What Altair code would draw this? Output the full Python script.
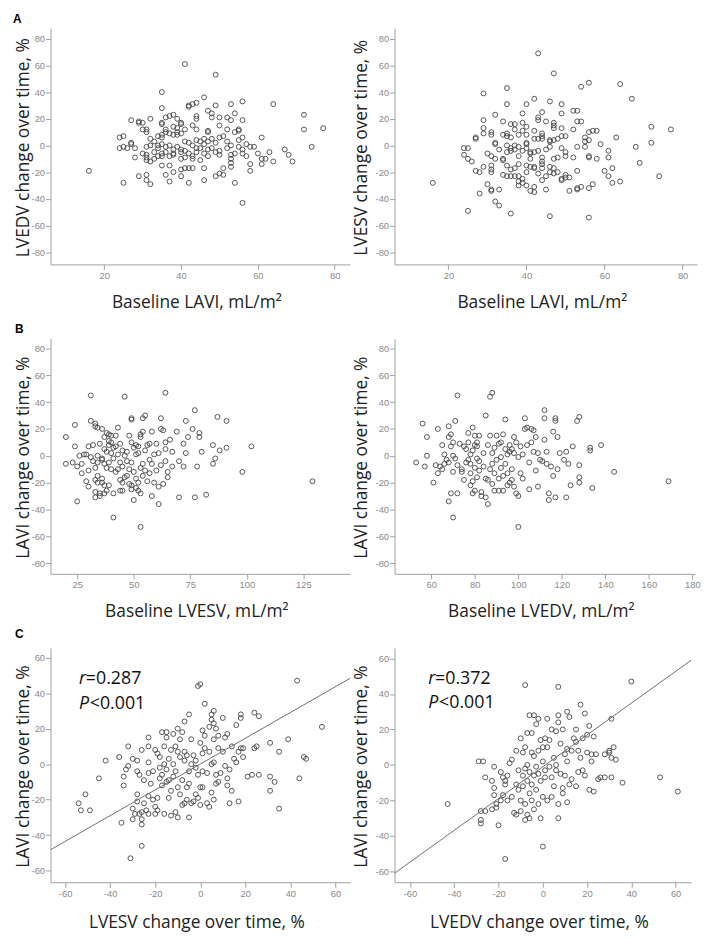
import altair as alt
import pandas as pd

# ---------------- data ----------------
# Panel A, left: Baseline LAVI vs LVEDV change over time
a1_pts = [(16,-19),(41,61),(49,53),(35,40),(46,36),(56,33),(64,31),(53,31),(42,29),(43,31),(44,32),(42,30),(49,30),(35,28),
          (47,26),(48,24),(54,24),(48,21),(50,21),(52,21),(53,19),(56,19),(38,23),(37,22),(36,21),(39,20),(40,17),(40,16),
          (27,19),(29,18),(30,17),(29,17),(72,23),(72,12),(77,13),(32,20),(35,17),(35,16),(44,20),(44,22),(43,15),(31,12),
          (30,12),(31,10),(38,14),(39,13),(36,12),(41,12),(44,12),(47,11),(47,10),(50,15),(52,12),(55,11),(55,12),(54,10),
          (61,6),(56,6),(55,4),(24,6),(25,7),(24,-2),(26,-2),(25,-1),(28,-2),(27,2),(27,1),(32,5),(33,3),(32,0),(31,-1),
          (30,-6),(31,-7),(31,-9),(28,-9),(31,-11),(34,7),(35,8),(35,6),(36,10),(37,9),(38,8),(39,10),(39,8),(40,9),(34,0),
          (35,1),(34,-2),(36,-1),(37,0),(38,-3),(38,-6),(37,-8),(38,-7),(36,-5),(35,-6),(35,-8),(34,-8),(33,-5),(33,-10),
          (32,-12),(39,-1),(40,-3),(40,-5),(41,-4),(41,3),(42,2),(43,0),(44,-2),(44,4),(45,3),(46,5),(46,1),(45,-2),(44,-5),
          (43,-8),(42,-6),(41,-9),(40,-10),(43,-10),(45,-11),(46,-6),(47,-8),(47,-3),(47,3),(48,5),(49,2),(48,-2),(49,-5),
          (50,-7),(50,-4),(50,6),(51,7),(52,3),(53,0),(53,-7),(53,-10),(52,-2),(55,-1),(56,-3),(56,-6),(54,-6),(57,1),(58,-1),
          (59,-1),(60,-6),(61,-10),(62,-10),(61,-14),(63,-5),(64,-12),(67,-3),(68,-7),(69,-12),(74,-1),(58,-14),(58,-19),
          (57,-8),(35,-15),(37,-15),(38,-20),(36,-22),(37,-27),(40,-18),(40,-23),(41,-17),(42,-17),(43,-17),(29,-23),(31,-22),
          (31,-26),(32,-29),(25,-28),(46,-17),(46,-26),(49,-23),(50,-21),(51,-22),(51,-17),(53,-16),(53,-13),(42,-28),(54,-28),
          (56,-43)]

# Panel A, right: Baseline LAVI vs LVESV change over time
a2_pts = [(16,-28),(43,69),(47,54),(56,47),(64,46),(54,44),(35,43),(29,39),(67,35),(42,35),(46,33),(35,31),(40,31),(49,31),
          (52,26),(53,26),(44,25),(39,24),(49,24),(32,23),(43,21),(43,19),(29,19),(34,18),(45,18),(53,18),(54,18),(36,16),
          (37,16),(39,17),(40,14),(47,17),(47,15),(47,13),(49,13),(52,12),(72,14),(77,12),(57,11),(58,11),(56,10),(29,13),
          (29,9),(31,10),(31,8),(34,8),(35,9),(35,7),(36,6),(37,12),(38,8),(40,8),(39,11),(42,11),(44,9),(44,7),(42,5),(43,5),
          (44,5),(46,4),(47,4),(48,5),(49,7),(50,7),(55,6),(55,3),(56,4),(59,1),(63,6),(72,2),(27,5),(27,6),(24,-2),(25,-2),
          (24,-7),(25,-10),(26,-12),(30,-6),(31,-8),(32,1),(32,2),(33,-3),(34,-10),(34,-11),(35,0),(35,-5),(36,-2),(36,-4),
          (37,0),(37,-3),(38,-8),(38,-1),(39,-4),(40,-2),(40,1),(40,2),(41,-5),(41,-10),(41,-6),(42,-5),(43,-4),(44,-9),
          (44,-12),(45,-3),(46,-1),(46,3),(47,-10),(48,-9),(49,-2),(50,-5),(50,-8),(52,-9),(53,-1),(55,-1),(56,-8),(56,-9),
          (58,-10),(61,-4),(61,-9),(68,-1),(69,-13),(27,-19),(28,-20),(29,-16),(31,-15),(31,-18),(31,-20),(32,-10),(34,-22),
          (35,-23),(35,-15),(36,-18),(36,-23),(37,-17),(37,-23),(38,-14),(38,-23),(39,-25),(40,-20),(40,-15),(41,-16),
          (42,-16),(42,-17),(43,-21),(44,-14),(44,-17),(44,-26),(45,-23),(46,-20),(46,-16),(47,-17),(47,-21),(48,-20),
          (49,-25),(49,-26),(50,-22),(50,-24),(51,-24),(53,-19),(53,-32),(53,-33),(54,-31),(57,-29),(56,-32),(60,-19),
          (61,-23),(62,-17),(62,-28),(64,-27),(74,-23),(28,-36),(30,-29),(31,-33),(31,-34),(33,-33),(32,-42),(33,-45),
          (25,-49),(36,-51),(38,-27),(38,-30),(39,-28),(40,-30),(41,-34),(42,-31),(42,-35),(45,-33),(46,-53),(51,-34),(56,-54)]

# Panel B, left: Baseline LVESV vs LAVI change over time
b1_pts = [(20,14),(20,-6),(23,-5),(24,7),(24,23),(25,-8),(25,-34),(26,0),(27,-13),(27,-6),(28,1),(29,1),(29,-19),(30,-23),
          (30,-11),(30,7),(31,-1),(31,45),(31,26),(32,8),(32,-4),(33,24),(33,22),(33,-9),(33,-18),(33,-27),(33,-31),(34,21),
          (34,0),(34,-5),(34,-15),(34,-20),(35,9),(35,-30),(35,-28),(36,20),(36,-2),(36,-3),(36,-17),(36,-20),(37,14),(37,5),
          (37,-6),(37,-22),(37,-28),(38,17),(38,3),(38,-9),(38,-26),(39,11),(39,16),(39,8),(39,-5),(39,-22),(40,15),(40,10),
          (40,2),(40,-10),(41,-28),(41,-46),(41,-2),(41,6),(42,15),(42,7),(42,-12),(43,21),(43,1),(43,-10),(44,-5),(44,9),
          (44,-18),(44,-26),(45,-20),(45,-26),(45,4),(45,-8),(46,44),(46,0),(46,-16),(47,-15),(47,3),(47,-4),(48,15),(48,-21),
          (48,-10),(49,27),(49,28),(49,10),(49,-5),(49,-22),(49,-25),(50,-33),(50,6),(50,-12),(51,8),(51,1),(51,-17),(51,-24),
          (52,2),(52,7),(52,-20),(52,-26),(53,16),(53,14),(53,-28),(53,-53),(53,-9),(54,18),(54,-15),(54,-6),(54,28),(55,30),
          (55,4),(55,-11),(56,8),(56,-19),(57,-3),(57,9),(57,-13),(58,18),(58,-30),(58,-6),(59,-20),(59,1),(60,9),(60,-11),
          (61,-36),(61,2),(61,-23),(62,28),(62,20),(62,-7),(63,19),(63,-21),(64,47),(64,10),(64,-4),(64,5),(65,-12),(65,-16),
          (66,12),(67,3),(67,-8),(69,18),(70,-4),(70,-31),(72,9),(72,-8),(73,26),(73,2),(74,14),(76,20),(77,34),(77,-31),
          (78,-8),(79,17),(79,14),(80,3),(82,-29),(85,8),(85,-6),(86,-2),(87,29),(88,4),(91,26),(91,6),(98,-12),(102,7),
          (129,-19)]

# Panel B, right: Baseline LVEDV vs LAVI change over time
b2_pts = [(53,-5),(56,24),(57,-8),(58,0),(58,14),(61,-20),(62,-7),(63,20),(63,-13),(64,-8),(65,-10),(65,8),(66,-6),(66,1),
          (67,-3),(68,22),(68,14),(68,-5),(68,-34),(69,16),(69,-28),(69,7),(70,0),(70,-46),(70,-12),(70,10),(71,26),(71,-2),
          (72,45),(72,-7),(72,-28),(73,9),(74,-10),(74,-12),(75,7),(75,-18),(76,5),(76,-5),(77,17),(77,-3),(77,10),(78,-13),
          (78,-22),(78,1),(78,-6),(79,-19),(79,-28),(79,21),(79,4),(80,-9),(80,8),(80,-26),(80,15),(81,10),(81,7),(81,-2),
          (81,-16),(82,15),(82,-4),(82,-11),(83,-27),(83,-30),(84,-8),(84,2),(85,30),(85,-17),(85,-31),(86,8),(86,-18),
          (86,-36),(87,44),(87,15),(87,-10),(88,47),(88,2),(88,-21),(88,-6),(89,6),(89,-26),(89,-13),(90,15),(90,-3),(91,9),
          (91,-26),(91,-17),(92,10),(92,-1),(92,-9),(93,16),(93,-15),(93,-26),(94,27),(94,5),(94,-6),(95,1),(95,-13),(95,-22),
          (96,-20),(96,8),(96,3),(97,-18),(97,-10),(97,5),(98,14),(98,-23),(98,2),(99,10),(99,-28),(100,-53),(100,-1),
          (100,-30),(101,7),(101,-13),(102,-17),(102,1),(103,28),(103,20),(104,21),(104,8),(105,-5),(105,-25),(106,10),
          (106,20),(107,19),(107,3),(108,14),(108,-11),(109,-23),(109,2),(110,-3),(111,-4),(112,34),(112,28),(112,12),(113,3),
          (113,-6),(114,-28),(114,-33),(115,-8),(116,-15),(116,18),(117,28),(117,26),(117,-31),(118,14),(118,-10),(119,2),
          (121,-3),(122,-31),(122,3),(123,-6),(124,-22),(125,7),(127,26),(128,29),(128,-7),(128,-16),(128,-20),(133,6),
          (133,4),(134,-24),(138,8),(144,-12),(169,-19)]

# Panel C, left: LVESV change vs LAVI change
c1_pts = [(-54,-22),(-53,-26),(-51,-17),(-49,-26),(-45,-8),(-42,2),(-36,4),(-35,-33),(-34,-12),(-34,-7),(-33,-3),(-32,10),
          (-32,-1),(-31,-53),(-30,-31),(-30,-25),(-30,3),(-29,-28),(-28,-21),(-28,-17),(-28,-4),(-28,2),(-27,-28),(-27,-6),
          (-26,-46),(-26,-34),(-26,-31),(-26,-27),(-26,8),(-25,-9),(-25,-22),(-24,-26),(-23,-28),(-23,-18),(-23,15),(-23,10),
          (-23,1),(-23,-5),(-22,-11),(-21,-4),(-21,-20),(-20,8),(-20,-24),(-20,-28),(-19,6),(-19,-19),(-19,-26),(-18,-2),
          (-18,4),(-18,-8),(-17,18),(-17,-12),(-17,-6),(-16,-28),(-16,10),(-16,0),(-15,18),(-15,15),(-15,-3),(-15,-10),
          (-14,-19),(-14,-9),(-14,3),(-13,-29),(-13,8),(-13,-15),(-12,17),(-12,-7),(-12,0),(-11,10),(-11,-27),(-11,-4),
          (-10,20),(-10,7),(-10,-30),(-10,-13),(-9,14),(-9,-17),(-9,4),(-8,18),(-8,-9),(-8,-23),(-7,24),(-7,7),(-7,2),(-7,-22),
          (-6,5),(-6,-13),(-6,-20),(-5,28),(-5,-30),(-5,-11),(-5,-4),(-4,14),(-4,0),(-4,-22),(-3,5),(-3,-21),(-2,-17),(-2,-2),
          (-2,2),(-1,44),(-1,-6),(-1,-19),(0,45),(0,12),(0,-23),(0,-13),(1,19),(1,6),(1,-4),(1,-13),(2,34),(2,16),(2,9),(3,-5),
          (3,-22),(4,7),(4,21),(4,-24),(5,28),(5,25),(5,-16),(5,0),(6,30),(6,23),(6,14),(6,-20),(6,1),(7,20),(7,-6),(7,-11),
          (8,9),(8,16),(8,-10),(9,-5),(10,26),(10,7),(11,-1),(11,15),(12,17),(12,-8),(12,-12),(13,-3),(13,-22),(14,10),(14,-15),
          (15,3),(16,22),(16,1),(17,-21),(17,7),(18,28),(18,26),(18,9),(19,4),(19,9),(21,-7),(23,-6),(24,29),(24,9),(25,10),
          (26,27),(26,-6),(31,12),(31,-7),(31,-15),(33,-10),(35,7),(35,-25),(39,14),(43,47),(44,-8),(46,4),(47,3),(54,21)]

# Panel C, right: LVEDV change vs LAVI change
c2_pts = [(-43,-22),(-29,2),(-27,2),(-28,-26),(-28,-31),(-28,-33),(-26,-7),(-26,-26),(-23,-9),(-23,-25),(-22,-13),(-22,-17),
          (-22,-1),(-21,-22),(-21,-24),(-20,-34),(-19,-4),(-19,-20),(-18,-7),(-18,-17),(-17,-53),(-17,-9),(-17,-11),(-16,-6),
          (-16,-20),(-15,1),(-14,3),(-14,-18),(-13,-27),(-12,8),(-12,-11),(-12,-28),(-11,-3),(-11,-14),(-10,15),(-10,-20),
          (-10,-26),(-9,7),(-9,-6),(-9,-12),(-8,45),(-8,10),(-8,-2),(-8,-22),(-8,-31),(-7,18),(-7,0),(-7,-9),(-7,-28),(-6,28),
          (-6,-4),(-6,-16),(-6,-30),(-5,18),(-5,7),(-5,-11),(-5,-20),(-4,28),(-4,5),(-4,-6),(-4,-25),(-3,23),(-3,-1),(-3,-14),
          (-2,26),(-2,8),(-2,-5),(-2,-22),(-1,14),(-1,-9),(-1,-30),(0,10),(0,2),(0,-18),(0,-46),(1,15),(1,-3),(1,-7),(2,26),
          (2,10),(2,-20),(3,-1),(3,14),(4,-18),(4,20),(4,-7),(5,4),(5,-12),(6,19),(6,0),(6,-3),(7,44),(7,28),(7,24),(7,-22),
          (7,-30),(8,12),(8,-5),(9,20),(9,-13),(9,-16),(10,6),(10,-6),(11,30),(11,9),(11,2),(11,-21),(12,27),(12,-11),(13,8),
          (13,-8),(14,15),(15,20),(15,13),(15,-12),(16,8),(16,-4),(17,34),(17,4),(18,-3),(18,15),(19,29),(19,-6),(20,17),
          (20,7),(21,22),(21,-14),(22,2),(22,6),(23,16),(23,-15),(24,6),(25,-8),(26,-7),(28,6),(28,-7),(30,8),(30,7),(31,26),
          (31,4),(31,-7),(32,10),(33,3),(36,-10),(40,47),(53,-7),(61,-15)]

# fitted lines (end points at the axis limits)
c1_fit_x = [-66.5, 66.5]
c1_fit_y = [-48.2, 48.3]
c2_fit_x = [-67.0, 67.0]
c2_fit_y = [-61.0, 59.0]

# annotations
c1_stats = ["r", "=0.287", "P", "<0.001"]
c2_stats = ["r", "=0.372", "P", "<0.001"]
panel_letters = ["A", "B", "C"]

ticks_pm80 = [-80, -60, -40, -20, 0, 20, 40, 60, 80]
ticks_pm60 = [-60, -40, -20, 0, 20, 40, 60]
ticks_lavi = [20, 40, 60, 80]
ticks_lvesv = [25, 50, 75, 100, 125]
ticks_lvedv = [60, 80, 100, 120, 140, 160, 180]

TITLE_FONT = "Open Sans"
LABEL_FONT = "Liberation Sans"
PT_COLOR = "#444444"


def panel(pts, xdom, ydom, xticks, yticks, xtitle, ytitle, w, h, xtitle_y, ytitle_x,
          fit=None, stats=None, stat_pos=None, letter=None, letter_pos=None):
    df = pd.DataFrame(pts, columns=["x", "y"])
    xenc = alt.X("x:Q",
                 scale=alt.Scale(domain=xdom, nice=False, zero=False),
                 axis=alt.Axis(values=xticks, title=xtitle, titleX=w / 2 - 4, titleY=xtitle_y,
                               titleBaseline="alphabetic", titleAlign="center",
                               labelExpr="'' + datum.value", labelFlush=False, labelOverlap=False))
    yenc = alt.Y("y:Q",
                 scale=alt.Scale(domain=ydom, nice=False, zero=False),
                 axis=alt.Axis(values=yticks, title=ytitle, titleX=ytitle_x, titleY=h / 2 + 1,
                               titleBaseline="alphabetic", titleAngle=270, titleAlign="center",
                               labelExpr="'' + datum.value", labelFlush=False, labelOverlap=False))
    layers = [alt.Chart(df).mark_point(shape="circle", filled=False, size=25, color=PT_COLOR,
                                       strokeWidth=1, opacity=0.9, clip=True).encode(x=xenc, y=yenc)]
    if fit is not None:
        fdf = pd.DataFrame({"x": fit[0], "y": fit[1]})
        layers.append(alt.Chart(fdf).mark_line(color="#6e6e6e", strokeWidth=1, clip=True).encode(x=xenc, y=yenc))
    if stats is not None:
        sx, sy1, sy2 = stat_pos
        sdf = pd.DataFrame({"x": [sx, sx], "y": [sy1, sy2], "t": [stats[0], stats[2]]})
        rdf1 = pd.DataFrame({"x": [sx], "y": [sy1], "t": [stats[1]]})
        rdf2 = pd.DataFrame({"x": [sx], "y": [sy2], "t": [stats[3]]})
        layers.append(alt.Chart(sdf).mark_text(align="left", baseline="alphabetic", font=TITLE_FONT,
                                               fontSize=18, fontStyle="italic", color="#111")
                      .encode(x=xenc, y=yenc, text="t:N"))
        layers.append(alt.Chart(rdf1).mark_text(align="left", baseline="alphabetic", font=TITLE_FONT,
                                                fontSize=18, color="#111", dx=7)
                      .encode(x=xenc, y=yenc, text="t:N"))
        layers.append(alt.Chart(rdf2).mark_text(align="left", baseline="alphabetic", font=TITLE_FONT,
                                                fontSize=18, color="#111", dx=11)
                      .encode(x=xenc, y=yenc, text="t:N"))
    if letter is not None:
        ldf = pd.DataFrame({"t": [letter]})
        layers.append(alt.Chart(ldf).mark_text(align="left", baseline="alphabetic", font=LABEL_FONT,
                                               fontSize=12, fontWeight="bold", color="#000")
                      .encode(x=alt.value(letter_pos[0]), y=alt.value(letter_pos[1]), text="t:N"))
    return alt.layer(*layers).properties(width=w, height=h)


LW = 303  # left column plot width
pA1 = panel(a1_pts, [6, 84], [-89.1, 87.9], ticks_lavi, ticks_pm80,
            "Baseline LAVI, mL/m²", "LVEDV change over time, %", LW, 239, 43.5, -22,
            letter=panel_letters[0], letter_pos=(-38, -5))
pA2 = panel(a2_pts, [6.2, 83.7], [-89.1, 87.9], ticks_lavi, ticks_pm80,
            "Baseline LAVI, mL/m²", "LVESV change over time, %", 306, 239, 43.5, -28.5)
pB1 = panel(b1_pts, [13.2, 145.6], [-88, 87.4], ticks_lvesv, ticks_pm80,
            "Baseline LVESV, mL/m²", "LAVI change over time, %", LW, 238, 43, -22,
            letter=panel_letters[1], letter_pos=(-36, -6))
pB2 = panel(b2_pts, [43.1, 181.2], [-88, 87.4], ticks_lvedv, ticks_pm80,
            "Baseline LVEDV, mL/m²", "LAVI change over time, %", 304, 238, 43, -28.5)
pC1 = panel(c1_pts, [-66.5, 66.5], [-66.5, 65.4], ticks_pm60, ticks_pm60,
            "LVESV change over time, %", "LAVI change over time, %", LW, 237, 46, -22,
            fit=(c1_fit_x, c1_fit_y), stats=c1_stats, stat_pos=(-53.9, 45, 31.3),
            letter=panel_letters[2], letter_pos=(-36, -10))
pC2 = panel(c2_pts, [-67, 67], [-66.1, 65.9], ticks_pm60, ticks_pm60,
            "LVEDV change over time, %", "LAVI change over time, %", 300, 237, 46, -28.5,
            fit=(c2_fit_x, c2_fit_y), stats=c2_stats, stat_pos=(-51.8, 45.6, 32))

chart = alt.concat(pA1, pA2, pB1, pB2, pC1, pC2, columns=2,
                   spacing={"row": 75, "column": 45}, bounds="flush").properties(
    padding={"left": 5, "top": 0, "right": 0, "bottom": 0}, background="white"
).configure_view(stroke=None).configure_axis(
    grid=False, domainColor="#a0a0a0", tickColor="#a0a0a0", tickSize=5, domainWidth=1, tickWidth=1,
    labelColor="#8a8a8a", labelFont=LABEL_FONT, labelFontSize=9.5, labelPadding=1,
    titleFont=TITLE_FONT, titleFontSize=17.5, titleFontWeight="normal", titleColor="#222"
)

chart.save("out.html", embed_options={"renderer": "svg", "actions": False})
